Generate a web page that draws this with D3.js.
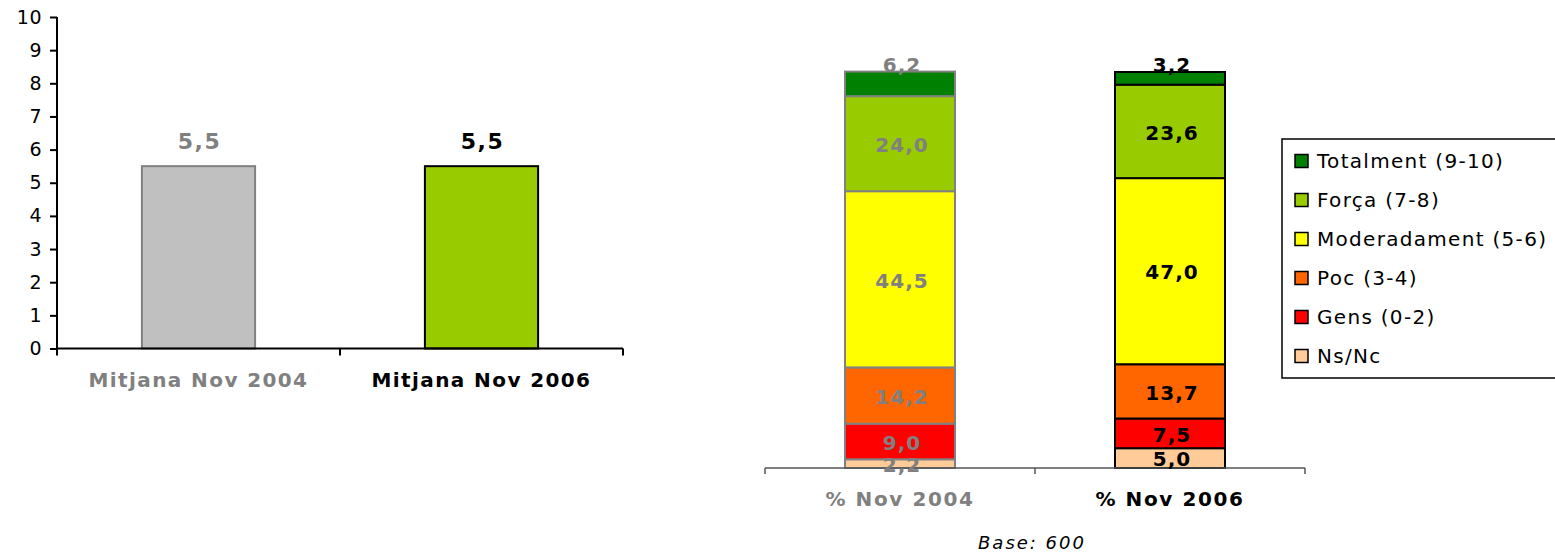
<!DOCTYPE html>
<html><head><meta charset="utf-8">
<script src="https://cdn.jsdelivr.net/npm/d3@7"></script>
<style>
html,body{margin:0;padding:0;background:#fff;}
svg{display:block;font-family:"DejaVu Sans",Verdana,sans-serif;}
</style></head>
<body>
<svg id="chart" width="1555" height="555"></svg>
<script>
// ---- data ----
const leftCategories = ["Mitjana Nov 2004", "Mitjana Nov 2006"];
const leftValues = [5.5, 5.5];
const leftTicks = [0,1,2,3,4,5,6,7,8,9,10];

const rightCategories = ["% Nov 2004", "% Nov 2006"];
const seriesNames = ["Ns/Nc", "Gens (0-2)", "Poc (3-4)", "Moderadament (5-6)", "Força (7-8)", "Totalment (9-10)"];
const nov2004 = [2.2, 9.0, 14.2, 44.5, 24.0, 6.2];
const nov2006 = [5.0, 7.5, 13.7, 47.0, 23.6, 3.2];
const seriesColors = ["#ffcc99", "#ff0000", "#ff6600", "#ffff00", "#99cc00", "#008000"];
const baseNote = "Base: 600";

// ---- styles ----
const catTextColor = ["#808080", "#000000"];
const leftBarFill = ["#c0c0c0", "#99cc00"];
const barStroke = ["#808080", "#000000"];
const fmt = v => d3.format(".1f")(v).replace(".", ",");

const svg = d3.select("#chart");

// ================= LEFT CHART =================
const lx = d3.scaleBand().domain(leftCategories).range([57, 623]).paddingInner(0).paddingOuter(0);
const ly = d3.scaleLinear().domain([0, 10]).range([348.5, 17]);
const lBarW = lx.bandwidth() * 0.4;

const gl = svg.append("g");
// y axis
const yAxis = gl.append("g").attr("transform", "translate(57,0)")
  .call(d3.axisLeft(ly).tickValues(leftTicks).tickSize(7).tickPadding(8).tickFormat(d3.format("d")));
yAxis.select(".domain").attr("stroke", "#000").attr("stroke-width", 2).attr("d", `M0,${ly(10)}V${ly(0)+7}`);
yAxis.selectAll(".tick line").attr("stroke", "#000").attr("stroke-width", 2);
yAxis.selectAll(".tick text").attr("font-size", 19).attr("fill", "#000").attr("font-family", "DejaVu Sans").attr("letter-spacing", "0.5px");

// bars
gl.selectAll("rect.lbar").data(leftValues).join("rect")
  .attr("class", "lbar")
  .attr("x", (d, i) => lx(leftCategories[i]) + (lx.bandwidth() - lBarW) / 2)
  .attr("y", d => ly(d))
  .attr("width", lBarW)
  .attr("height", d => ly(0) - ly(d))
  .attr("fill", (d, i) => leftBarFill[i])
  .attr("stroke", (d, i) => barStroke[i])
  .attr("stroke-width", 2);

// x axis
const xAxisL = gl.append("g").attr("transform", `translate(0,${ly(0)})`)
  .call(d3.axisBottom(lx).tickSize(0).tickFormat(""));
xAxisL.select(".domain").attr("stroke", "#000").attr("stroke-width", 2).attr("d", `M57,0H623`);
const lTickPos = [lx.range()[0] + lx.bandwidth(), lx.range()[1]];
gl.selectAll("line.ltick").data(lTickPos).join("line")
  .attr("x1", d => d).attr("x2", d => d)
  .attr("y1", ly(0)).attr("y2", ly(0) + 7)
  .attr("stroke", "#000").attr("stroke-width", 2);

// value labels
gl.selectAll("text.lval").data(leftValues).join("text")
  .attr("x", (d, i) => lx(leftCategories[i]) + lx.bandwidth() / 2 + 1)
  .attr("y", d => ly(d) - 25)
  .attr("dy", "0.36em")
  .attr("text-anchor", "middle")
  .attr("font-size", 22).attr("font-weight", "bold").attr("letter-spacing", "1.5px")
  .attr("fill", (d, i) => catTextColor[i])
  .text(d => fmt(d));

// category labels
gl.selectAll("text.lcat").data(leftCategories).join("text")
  .attr("x", d => lx(d) + lx.bandwidth() / 2)
  .attr("y", 380)
  .attr("dy", "0.36em")
  .attr("text-anchor", "middle")
  .attr("font-size", 20).attr("font-weight", "bold").attr("letter-spacing", "1.4px")
  .attr("fill", (d, i) => catTextColor[i])
  .text(d => d);

// ================= RIGHT CHART =================
const rx = d3.scaleBand().domain(rightCategories).range([765, 1305]).paddingInner(0).paddingOuter(0);
const ry = d3.scaleLinear().domain([0, 100]).range([468, 72]);
const rBarW = 110;

const rows = rightCategories.map((c, i) => {
  const vals = i === 0 ? nov2004 : nov2006;
  const o = { cat: c, idx: i };
  seriesNames.forEach((s, k) => o[s] = vals[k]);
  return o;
});
const stacked = d3.stack().keys(seriesNames)(rows);

const gr = svg.append("g");
stacked.forEach((layer, k) => {
  gr.selectAll(null).data(layer).join("rect")
    .attr("x", d => rx(d.data.cat) + (rx.bandwidth() - rBarW) / 2)
    .attr("y", d => ry(d[1]))
    .attr("width", rBarW)
    .attr("height", d => ry(d[0]) - ry(d[1]))
    .attr("fill", seriesColors[k])
    .attr("stroke", d => barStroke[d.data.idx])
    .attr("stroke-width", 2);
});

// x axis
const xAxisR = gr.append("g").attr("transform", `translate(0,${ry(0)})`)
  .call(d3.axisBottom(rx).tickSize(0).tickFormat(""));
xAxisR.select(".domain").attr("stroke", "#555").attr("stroke-width", 1.5).attr("d", `M765,0H1305`);
const rTickPos = [rx.range()[0], rx.range()[0] + rx.bandwidth(), rx.range()[1]];
gr.selectAll("line.rtick").data(rTickPos).join("line")
  .attr("x1", d => d).attr("x2", d => d)
  .attr("y1", ry(0)).attr("y2", ry(0) + 6)
  .attr("stroke", "#555").attr("stroke-width", 1.5);

// segment labels
stacked.forEach((layer, k) => {
  const isTop = k === seriesNames.length - 1;
  gr.selectAll(null).data(layer).join("text")
    .attr("x", d => rx(d.data.cat) + rx.bandwidth() / 2 + 2)
    .attr("y", d => isTop ? ry(d[1]) - 7 : (ry(d[0]) + ry(d[1])) / 2 + 1)
    .attr("dy", "0.36em")
    .attr("text-anchor", "middle")
    .attr("font-size", 20).attr("font-weight", "bold").attr("letter-spacing", "1px")
    .attr("fill", d => catTextColor[d.data.idx])
    .text(d => fmt(d[1] - d[0]));
});

// category labels
gr.selectAll("text.rcat").data(rightCategories).join("text")
  .attr("x", d => rx(d) + rx.bandwidth() / 2)
  .attr("y", 499)
  .attr("dy", "0.36em")
  .attr("text-anchor", "middle")
  .attr("font-size", 20).attr("font-weight", "bold").attr("letter-spacing", "1.6px")
  .attr("fill", (d, i) => catTextColor[i])
  .text(d => d);

// base note
svg.append("text")
  .attr("x", 1032).attr("y", 543).attr("dy", "0.36em")
  .attr("text-anchor", "middle")
  .attr("font-size", 18).attr("font-style", "italic").attr("letter-spacing", "2px")
  .attr("fill", "#000")
  .text(baseNote);

// ================= LEGEND =================
const legendItems = seriesNames.map((s, k) => ({ name: s, color: seriesColors[k] })).reverse();
const ly2 = d3.scalePoint().domain(legendItems.map(d => d.name)).range([161, 356]);
const gLeg = svg.append("g");
gLeg.append("rect")
  .attr("x", 1282).attr("y", 139).attr("width", 400).attr("height", 239)
  .attr("fill", "#fff").attr("stroke", "#000").attr("stroke-width", 1.5);
const li = gLeg.selectAll("g.li").data(legendItems).join("g")
  .attr("transform", d => `translate(1295,${ly2(d.name)})`);
li.append("rect")
  .attr("x", 0).attr("y", -6.5).attr("width", 13).attr("height", 13)
  .attr("fill", d => d.color).attr("stroke", "#000").attr("stroke-width", 1.5);
li.append("text")
  .attr("x", 22).attr("y", 0).attr("dy", "0.36em")
  .attr("font-size", 20).attr("letter-spacing", "1.3px")
  .attr("fill", "#000")
  .text(d => d.name);
</script>
</body></html>
